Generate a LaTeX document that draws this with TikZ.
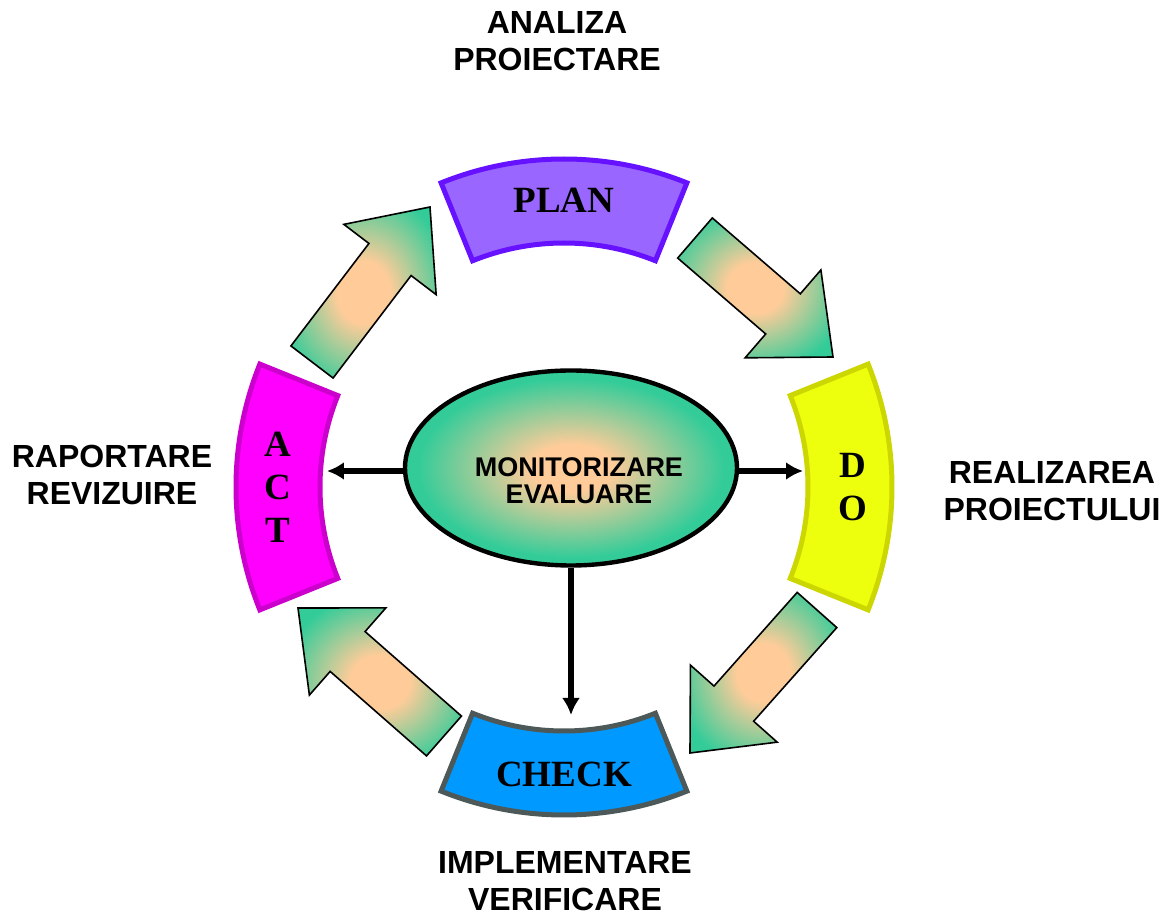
\documentclass[tikz,border=0pt]{standalone}
\usepackage{fontspec}
\setmainfont{Liberation Sans}
\newfontfamily\bandfont{Liberation Serif}
\usetikzlibrary{arrows.meta, calc, shapes.geometric}

\definecolor{peach}{RGB}{255,204,153}
\definecolor{mint}{RGB}{51,204,153}
\pgfdeclareradialshading{glow}{\pgfpointorigin}{color(0bp)=(peach); color(6bp)=(peach); color(23bp)=(mint); color(50bp)=(mint)}
\pgfdeclareradialshading{flowglow}{\pgfpointorigin}{color(0bp)=(peach); color(9bp)=(peach); color(30bp)=(mint); color(50bp)=(mint)}

\tikzset{
	band/.style={line width=2.5pt, line join=miter},
	bandtext/.style={font=\bandfont\bfseries\fontsize{18.5}{21.5}\selectfont, align=center, inner sep=0pt},
	stage/.style={font=\bfseries\fontsize{16}{18.5}\selectfont, align=center},
	flow/.style={draw=black, line width=0.8pt, shade, shading=flowglow, line join=miter},
	monitor/.style={ellipse, draw, line width=2.2pt, shade, shading=glow, minimum width=166pt, minimum height=97.5pt, inner sep=0pt},
	link/.style={-{Latex[length=8.5pt,width=9pt]}, line width=2.6pt}
}

\begin{document}
\begin{tikzpicture}[x=0.5pt, y=0.5pt]

	\useasboundingbox (-564,-428) rectangle (609,487);

	% the four stages
	\draw[band, fill={rgb,255:red,153;green,102;blue,255}, draw={rgb,255:red,102;green,17;blue,255}]
	(68:328) arc (68:112:328) -- (112:244) arc (112:68:244) -- cycle;
	\draw[band, fill={rgb,255:red,238;green,255;blue,14}, draw={rgb,255:red,204;green,214;blue,0}]
	(-22:328) arc (-22:22:328) -- (22:244) arc (22:-22:244) -- cycle;
	\draw[band, fill={rgb,255:red,0;green,153;blue,255}, draw={rgb,255:red,77;green,89;blue,89}]
	(248:328) arc (248:292:328) -- (292:244) arc (292:248:244) -- cycle;
	\draw[band, fill={rgb,255:red,255;green,0;blue,255}, draw={rgb,255:red,204;green,0;blue,204}]
	(158:328) arc (158:202:328) -- (202:244) arc (202:158:244) -- cycle;

	\node[bandtext] (plan) at (90:287) {PLAN};
	\node[bandtext] (do) at (0:289) {D\\O};
	\node[bandtext] (check) at (270:287) {CHECK};
	\node[bandtext] (act) at (180:286) {A\\C\\T};

	% block arrows between the stages
	\foreach \n/\t/\p in {actplan/{-252,125}/{-134,280}, plando/{131,249}/{269,130},
		docheck/{253,-123}/{126,-266}, checkact/{-120,-249}/{-266,-121}} {
		\coordinate (\n-tail) at (\t);
		\coordinate (\n-tip) at (\p);
		\coordinate (\n-neck) at ($(\n-tip)!33pt!(\n-tail)$);
		\draw[flow] ($(\n-tail)!13.25pt!90:(\n-tip)$) -- ($(\n-neck)!13.25pt!90:(\n-tip)$)
		-- ($(\n-neck)!29pt!90:(\n-tip)$) -- (\n-tip)
		-- ($(\n-neck)!29pt!-90:(\n-tip)$) -- ($(\n-neck)!13.25pt!-90:(\n-tip)$)
		-- ($(\n-tail)!13.25pt!-90:(\n-tip)$) -- cycle;
	}

	\node[monitor] (mon) at (7,19) {};
	\node[font=\bfseries\fontsize{13.5}{13.5}\selectfont, align=center] (montext) at (15,6) {MONITORIZARE\\EVALUARE};

	\coordinate (act-in) at (-237,16);
	\coordinate (do-in) at (239,16);
	\coordinate (check-in) at (7,-228);

	\draw[link] (mon.west |- act-in) -- (act-in);
	\draw[link] (mon.east |- do-in) -- (do-in);
	\draw[link] (mon.south) -- (check-in);

	\node[stage] (analiza) at (-7,446) {ANALIZA\\PROIECTARE};
	\node[stage] (raportare) at (-452,12) {RAPORTARE\\REVIZUIRE};
	\node[stage] (realizarea) at (488,-4) {REALIZAREA\\PROIECTULUI};
	\node[stage] (implementare) at (1,-394) {IMPLEMENTARE\\VERIFICARE};

\end{tikzpicture}
\end{document}
